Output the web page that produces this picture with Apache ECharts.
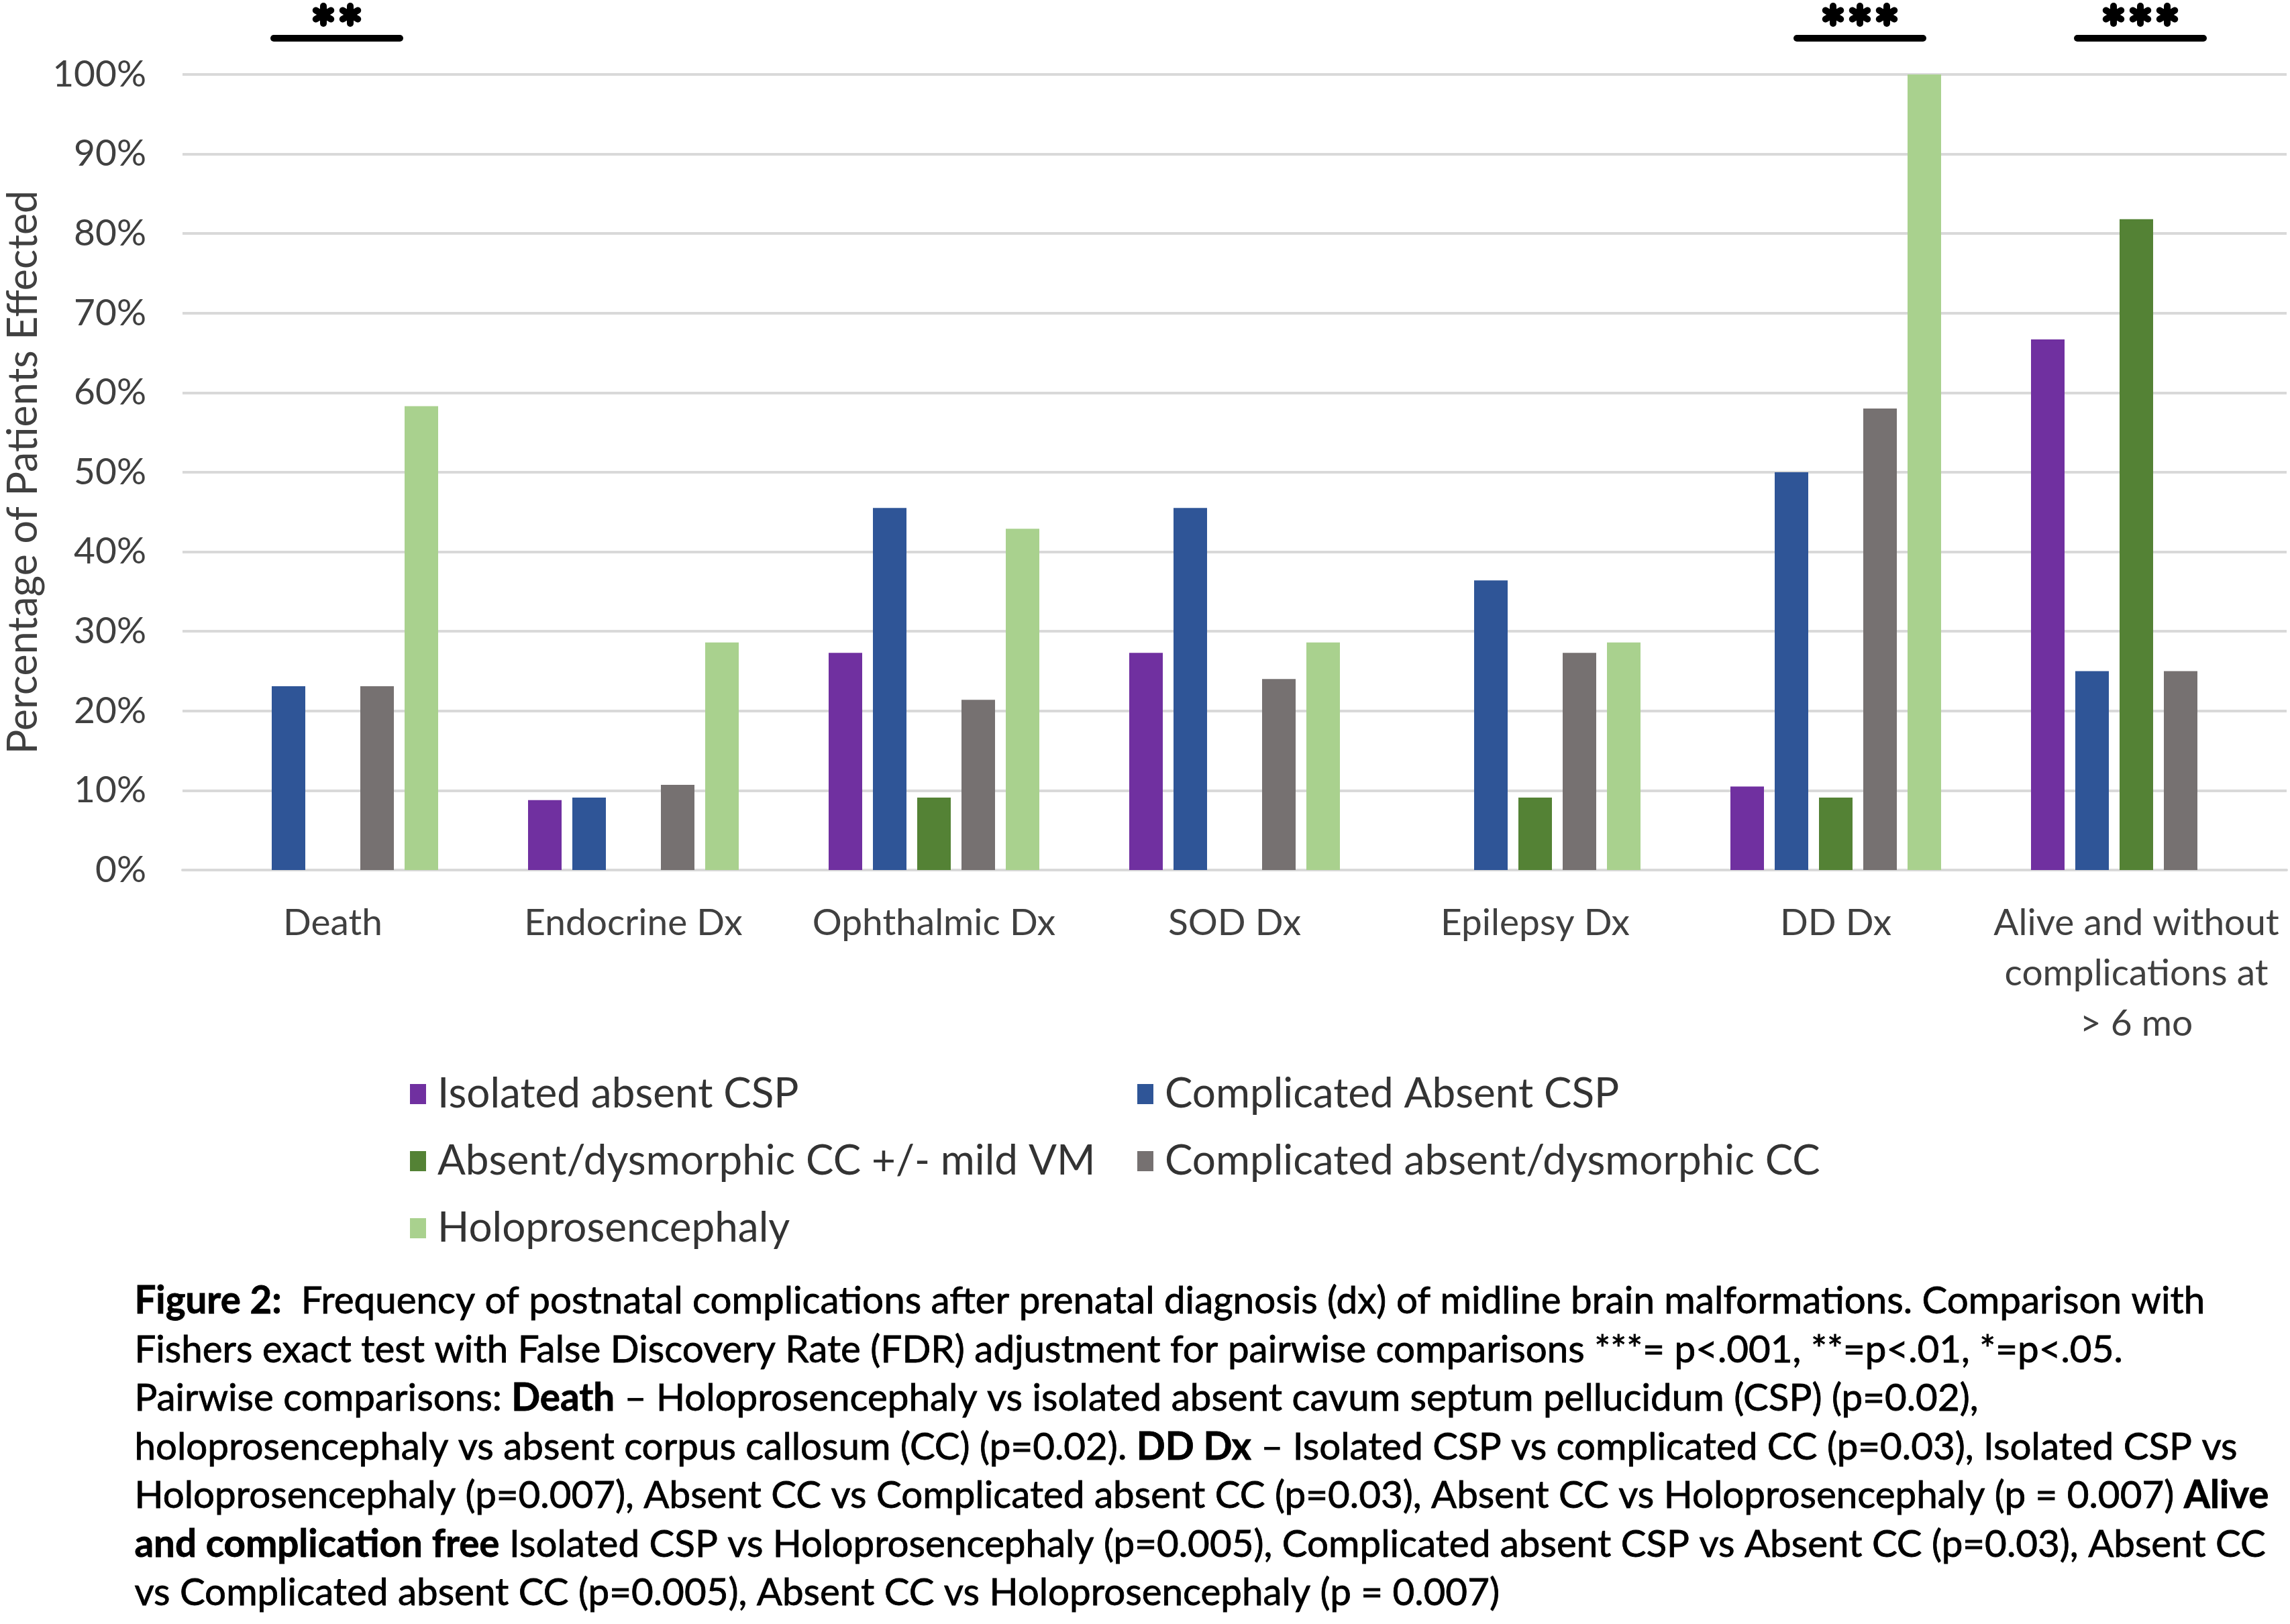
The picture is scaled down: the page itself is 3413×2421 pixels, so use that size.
<!DOCTYPE html>
<html><head><meta charset="utf-8">
<script src="https://cdn.jsdelivr.net/npm/echarts@6/dist/echarts.min.js"></script>
<style>html,body{margin:0;padding:0;background:#fff}#c{width:3413px;height:2421px}</style>
</head><body><div id="c"></div>
<script>
// ---- data ----
const categories = ['Death', 'Endocrine Dx', 'Ophthalmic Dx', 'SOD Dx', 'Epilepsy Dx', 'DD Dx', 'Alive and without\ncomplications at\n> 6 mo'];
const seriesNames = ['Isolated absent CSP', 'Complicated Absent CSP', 'Absent/dysmorphic CC +/- mild VM', 'Complicated absent/dysmorphic CC', 'Holoprosencephaly'];
const isolatedAbsentCSP = [0, 8.8, 27.3, 27.3, 0, 10.5, 66.7];
const complicatedAbsentCSP = [23.1, 9.1, 45.5, 45.5, 36.4, 50.0, 25.0];
const absentDysmorphicCC = [0, 0, 9.1, 0, 9.1, 9.1, 81.8];
const complicatedAbsentCC = [23.1, 10.7, 21.4, 24.0, 27.3, 58.0, 25.0];
const holoprosencephaly = [58.3, 28.6, 42.9, 28.6, 28.6, 100, 0];
const yTicks = [0, 10, 20, 30, 40, 50, 60, 70, 80, 90, 100];
const sigCategories = ['Death', 'DD Dx', 'Alive and without\ncomplications at\n> 6 mo'];
const sigStars = [2, 3, 3];

const colors = ['#7030A0', '#2F5597', '#548235', '#767171', '#A9D18E'];
const seriesData = [isolatedAbsentCSP, complicatedAbsentCSP, absentDysmorphicCC, complicatedAbsentCC, holoprosencephaly];
const FONT = 'Lato, "Open Sans", sans-serif';

const chart = echarts.init(document.getElementById('c'), null, {renderer: 'canvas'});

const caption =
 '{b|Figure 2:}  Frequency of postnatal complications after prenatal diagnosis (dx) of midline brain malformations. Comparison with\n' +
 'Fishers exact test with False Discovery Rate (FDR) adjustment for pairwise comparisons ***= p<.001, **=p<.01, *=p<.05.\n' +
 'Pairwise comparisons: {b|Death} \u2013 Holoprosencephaly vs isolated absent cavum septum pellucidum (CSP) (p=0.02),\n' +
 'holoprosencephaly vs absent corpus callosum (CC) (p=0.02). {b|DD Dx} \u2013 Isolated CSP vs complicated CC (p=0.03), Isolated CSP vs\n' +
 'Holoprosencephaly (p=0.007), Absent CC vs Complicated absent CC (p=0.03), Absent CC vs Holoprosencephaly (p = 0.007) {b|Alive}\n' +
 '{b|and complication free} Isolated CSP vs Holoprosencephaly (p=0.005), Complicated absent CSP vs Absent CC (p=0.03), Absent CC\n' +
 'vs Complicated absent CC (p=0.005), Absent CC vs Holoprosencephaly (p = 0.007)';

const legendText = {fontFamily: FONT, fontSize: 62, color: '#333', lineHeight: 64, padding: [0, 0, 0, 12]};
const option = {
  backgroundColor: '#ffffff',
  animation: false,
  color: colors,
  grid: {left: 272, right: 5, top: 111, bottom: 1124, containLabel: false, outerBoundsMode: 'none'},
  legend: [
    {
      data: [seriesNames[0], seriesNames[2], seriesNames[4]],
      orient: 'vertical', left: 606, top: 1594, itemGap: 36,
      itemWidth: 24, itemHeight: 30, icon: 'rect',
      textStyle: legendText
    },
    {
      data: [seriesNames[1], seriesNames[3]],
      orient: 'vertical', left: 1690, top: 1594, itemGap: 36,
      itemWidth: 24, itemHeight: 30, icon: 'rect',
      textStyle: legendText
    }
  ],
  xAxis: {
    type: 'category', data: categories,
    axisTick: {show: false},
    axisLine: {show: true, lineStyle: {color: '#d9d9d9', width: 4}},
    axisLabel: {fontFamily: FONT, fontSize: 55, color: '#404040', lineHeight: 75, margin: 42, interval: 0}
  },
  yAxis: {
    type: 'value', min: 0, max: 100, interval: 10,
    name: 'Percentage of Patients Effected', nameLocation: 'middle', nameGap: 206, nameRotate: 90,
    nameTextStyle: {fontFamily: FONT, fontSize: 61, color: '#404040'},
    axisLine: {show: false}, axisTick: {show: false},
    axisLabel: {fontFamily: FONT, fontSize: 55, color: '#404040', margin: 54, formatter: '{value}%'},
    splitLine: {lineStyle: {color: '#d9d9d9', width: 4}}
  },
  series: seriesNames.map((n, i) => ({
    name: n, type: 'bar', data: seriesData[i],
    barWidth: 50, barGap: '32%',
    itemStyle: {color: colors[i]}
  })),
  graphic: []
};
chart.setOption(option);

// significance annotations positioned from the category axis
const gridTop = 111;
const graphics = [];
const sigOffsets = [6, 36, 6];
sigCategories.forEach((cat, i) => {
  const cx = chart.convertToPixel({xAxisIndex: 0}, cat) + sigOffsets[i];
  const ly = gridTop - 54;
  graphics.push({type: 'line', shape: {x1: cx - 94, y1: ly, x2: cx + 94, y2: ly},
    style: {stroke: '#000', lineWidth: 10, lineCap: 'round'}, z: 100});
  const n = sigStars[i];
  for (let k = 0; k < n; k++) {
    const sx = cx + (k - (n - 1) / 2) * 40;
    const sy = gridTop - 89;
    for (let a = 0; a < 3; a++) {
      const ang = Math.PI / 2 + a * Math.PI / 3;
      const r = 13;
      graphics.push({type: 'line', shape: {x1: sx - r * Math.cos(ang), y1: sy - r * Math.sin(ang), x2: sx + r * Math.cos(ang), y2: sy + r * Math.sin(ang)},
        style: {stroke: '#000', lineWidth: 10, lineCap: 'round'}, z: 100});
    }
  }
});
graphics.push({
  type: 'text', left: 200, top: 1904, z: 100,
  style: {
    text: caption, fontFamily: FONT, fontSize: 56.5, fill: '#000', lineHeight: 72.5,
    stroke: '#000', lineWidth: 0.8,
    rich: {b: {fontFamily: FONT, fontSize: 56.5, fontWeight: 'bold', fill: '#000', lineHeight: 72.5, stroke: '#000', lineWidth: 0.8}}
  }
});
chart.setOption({graphic: graphics});
</script></body></html>
